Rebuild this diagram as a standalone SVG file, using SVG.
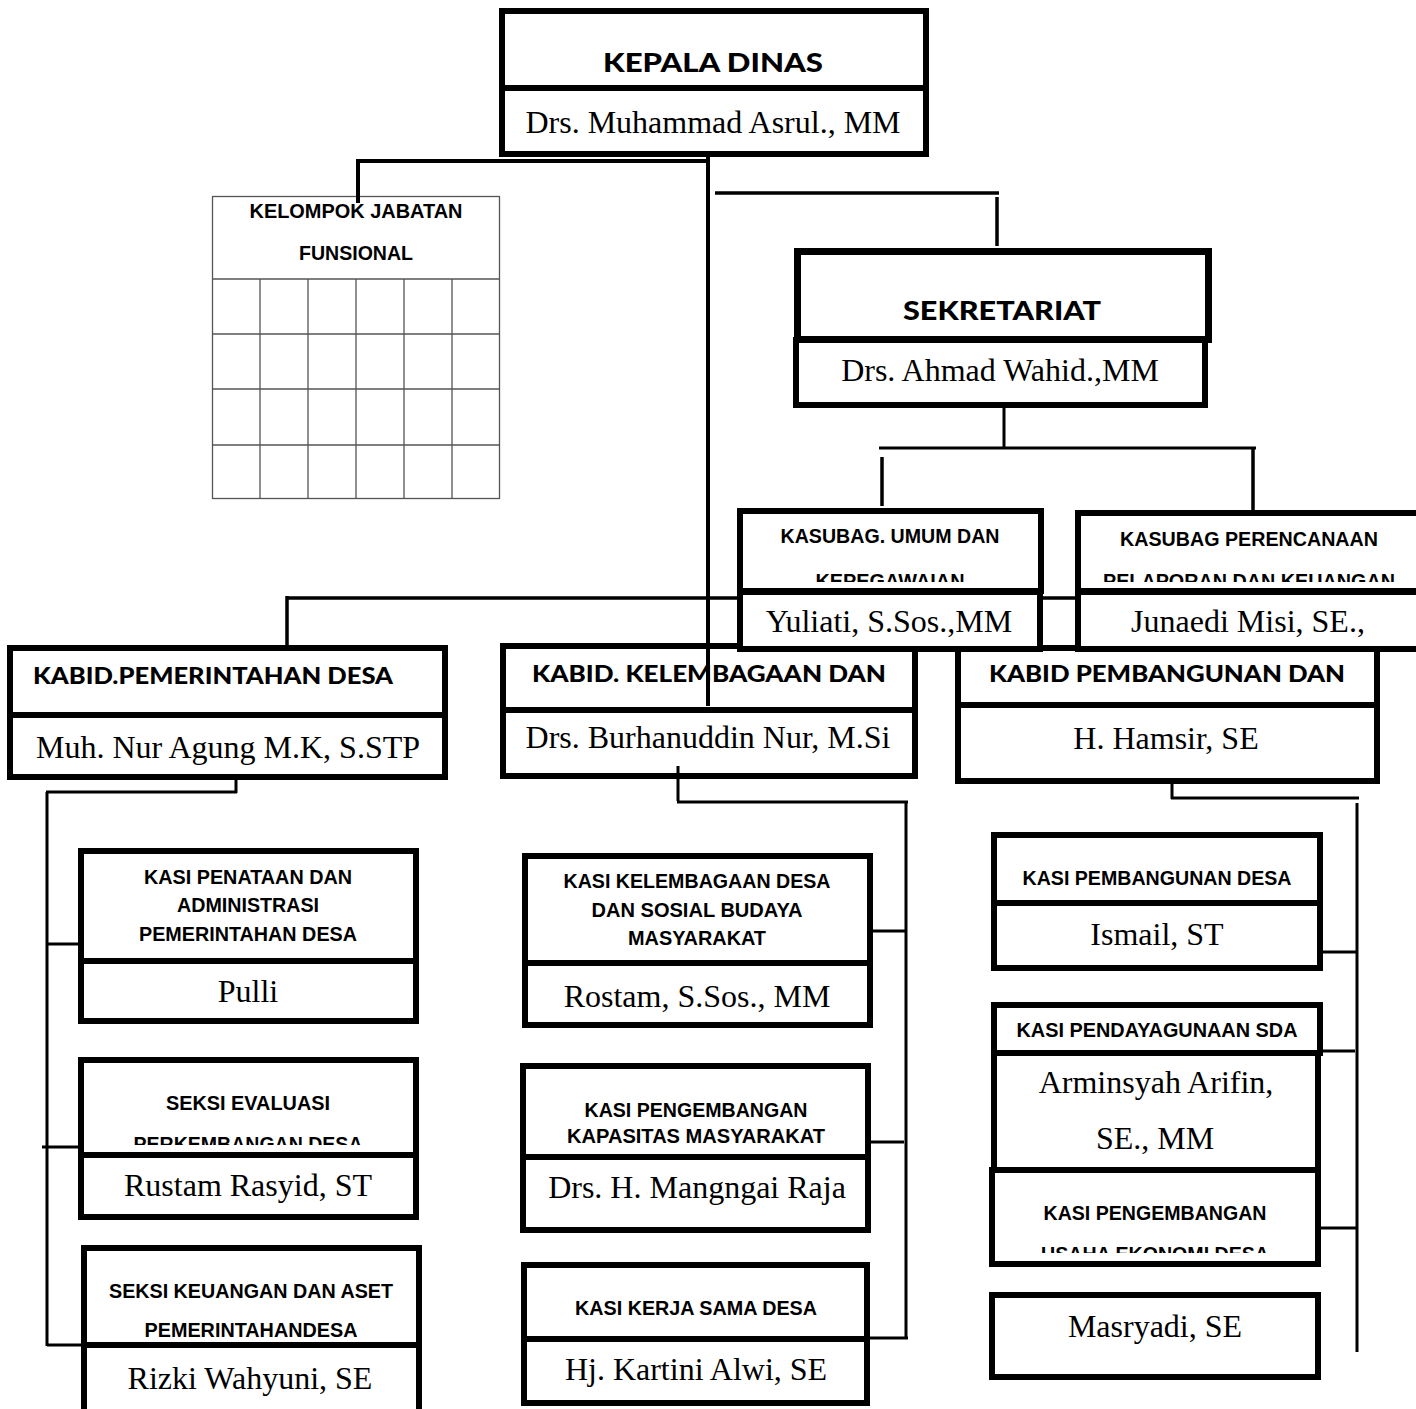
<svg xmlns="http://www.w3.org/2000/svg" width="1416" height="1409" viewBox="0 0 1416 1409">
<style>
.box{fill:#fff;stroke:#000;stroke-width:6}
.hd{font-family:Lato,"Liberation Sans",sans-serif;font-weight:900;font-size:26px;fill:#000}
.hs{font-family:Lato,"Liberation Sans",sans-serif;font-weight:900;font-size:23px;fill:#000}
.lb{font-family:"Liberation Sans",Arial,sans-serif;font-weight:bold;font-size:21px;fill:#000;text-anchor:middle}
.nm{font-family:"Liberation Serif","Times New Roman",serif;font-size:32px;fill:#000;text-anchor:middle}
.c{stroke:#000;stroke-width:3.5;fill:none}
.grid{stroke:#555;stroke-width:1.3;fill:none}
</style>
<defs>
<clipPath id="clipUmum"><rect x="740" y="511" width="301" height="71"/></clipPath>
<clipPath id="clipRenc"><rect x="1078" y="513" width="345" height="69"/></clipPath>
<clipPath id="clipEval"><rect x="81" y="1060" width="335" height="85"/></clipPath>
<clipPath id="clipUsaha"><rect x="992" y="1170" width="326" height="83"/></clipPath>
</defs>
<rect width="1416" height="1409" fill="#fff"/>

<g id="kelompok-jabatan">
<rect x="212.5" y="196.5" width="287" height="302" fill="#fff" class="grid"/>
<path class="grid" d="M212.5 279H499.5M212.5 334H499.5M212.5 389H499.5M212.5 445H499.5M260 279V498.5M308 279V498.5M356 279V498.5M404 279V498.5M452 279V498.5"/>
<text class="lb" x="356" y="218" textLength="213" lengthAdjust="spacingAndGlyphs">KELOMPOK JABATAN</text>
<text class="lb" x="356" y="260" textLength="114" lengthAdjust="spacingAndGlyphs">FUNSIONAL</text>
</g>

<g id="kepala-dinas">
<rect class="box" x="502" y="11" width="424" height="77"/>
<rect class="box" x="502" y="88" width="424" height="66"/>
<text class="hd" x="603" y="72" textLength="220" lengthAdjust="spacingAndGlyphs">KEPALA DINAS</text>
<text class="nm" x="713" y="133">Drs. Muhammad Asrul., MM</text>
</g>

<g id="sekretariat">
<rect class="box" x="797.5" y="251.5" width="411" height="88" style="stroke-width:7"/>
<rect class="box" x="796" y="340" width="409" height="65"/>
<text class="hd" x="903" y="320" textLength="198" lengthAdjust="spacingAndGlyphs">SEKRETARIAT</text>
<text class="nm" x="1000" y="381">Drs. Ahmad Wahid.,MM</text>
</g>

<g id="kabid-pemerintahan">
<rect class="box" x="10" y="648" width="435" height="67"/>
<rect class="box" x="10" y="715" width="435" height="62"/>
<text class="hs" x="33" y="684" textLength="360" lengthAdjust="spacingAndGlyphs">KABID.PEMERINTAHAN DESA</text>
<text class="nm" x="228" y="758">Muh. Nur Agung M.K, S.STP</text>
</g>

<g id="kabid-kelembagaan">
<rect class="box" x="503" y="646" width="412" height="64"/>
<rect class="box" x="503" y="710" width="412" height="66"/>
<text class="hs" x="532" y="682" textLength="354" lengthAdjust="spacingAndGlyphs">KABID. KELEMBAGAAN DAN</text>
<text class="nm" x="708" y="748">Drs. Burhanuddin Nur, M.Si</text>
</g>

<g id="kabid-pembangunan">
<rect class="box" x="958" y="648" width="419" height="57"/>
<rect class="box" x="958" y="705" width="419" height="76"/>
<text class="hs" x="989" y="682" textLength="356" lengthAdjust="spacingAndGlyphs">KABID PEMBANGUNAN DAN</text>
<text class="nm" x="1166" y="749">H. Hamsir, SE</text>
</g>

<g id="kasi-penataan">
<rect class="box" x="81" y="851" width="335" height="110"/>
<rect class="box" x="81" y="961" width="335" height="60"/>
<text class="lb" x="248" y="884" textLength="208" lengthAdjust="spacingAndGlyphs">KASI PENATAAN DAN</text>
<text class="lb" x="248" y="912" textLength="142" lengthAdjust="spacingAndGlyphs">ADMINISTRASI</text>
<text class="lb" x="248" y="941" textLength="218" lengthAdjust="spacingAndGlyphs">PEMERINTAHAN DESA</text>
<text class="nm" x="248" y="1002">Pulli</text>
</g>

<g id="seksi-evaluasi">
<rect class="box" x="81" y="1060" width="335" height="95"/>
<text class="lb" x="248" y="1110" textLength="164" lengthAdjust="spacingAndGlyphs">SEKSI EVALUASI</text>
<text class="lb" x="248" y="1151" clip-path="url(#clipEval)" textLength="229" lengthAdjust="spacingAndGlyphs">PERKEMBANGAN DESA</text>
<rect class="box" x="81" y="1155" width="335" height="62"/>
<text class="nm" x="248" y="1196">Rustam Rasyid, ST</text>
</g>

<g id="seksi-keuangan">
<rect class="box" x="84" y="1248" width="335" height="97"/>
<rect class="box" x="84" y="1345" width="335" height="72"/>
<text class="lb" x="251" y="1298" textLength="284" lengthAdjust="spacingAndGlyphs">SEKSI KEUANGAN DAN ASET</text>
<text class="lb" x="251" y="1337" textLength="213" lengthAdjust="spacingAndGlyphs">PEMERINTAHANDESA</text>
<text class="nm" x="250" y="1389">Rizki Wahyuni, SE</text>
</g>

<g id="kasi-kelembagaan">
<rect class="box" x="525" y="856" width="345" height="107"/>
<rect class="box" x="525" y="963" width="345" height="62"/>
<text class="lb" x="697" y="888" textLength="267" lengthAdjust="spacingAndGlyphs">KASI KELEMBAGAAN DESA</text>
<text class="lb" x="697" y="917" textLength="211" lengthAdjust="spacingAndGlyphs">DAN SOSIAL BUDAYA</text>
<text class="lb" x="697" y="945" textLength="138" lengthAdjust="spacingAndGlyphs">MASYARAKAT</text>
<text class="nm" x="697" y="1007">Rostam, S.Sos., MM</text>
</g>

<g id="kasi-pengembangan-kapasitas">
<rect class="box" x="523" y="1066" width="345" height="91"/>
<rect class="box" x="523" y="1157" width="345" height="73"/>
<text class="lb" x="696" y="1117" textLength="223" lengthAdjust="spacingAndGlyphs">KASI PENGEMBANGAN</text>
<text class="lb" x="696" y="1143" textLength="258" lengthAdjust="spacingAndGlyphs">KAPASITAS MASYARAKAT</text>
<text class="nm" x="697" y="1198">Drs. H. Mangngai Raja</text>
</g>

<g id="kasi-kerja-sama">
<rect class="box" x="524" y="1265" width="343" height="74"/>
<rect class="box" x="524" y="1339" width="343" height="64"/>
<text class="lb" x="696" y="1315" textLength="242" lengthAdjust="spacingAndGlyphs">KASI KERJA SAMA DESA</text>
<text class="nm" x="696" y="1380">Hj. Kartini Alwi, SE</text>
</g>

<g id="kasi-pembangunan-desa">
<rect class="box" x="994" y="835" width="326" height="68"/>
<rect class="box" x="994" y="903" width="326" height="65"/>
<text class="lb" x="1157" y="885" textLength="269" lengthAdjust="spacingAndGlyphs">KASI PEMBANGUNAN DESA</text>
<text class="nm" x="1157" y="945">Ismail, ST</text>
</g>

<g id="kasi-pendayagunaan-sda">
<rect class="box" x="994" y="1005" width="326" height="48"/>
<rect class="box" x="994" y="1053" width="324" height="117"/>
<text class="lb" x="1157" y="1037" textLength="281" lengthAdjust="spacingAndGlyphs">KASI PENDAYAGUNAAN SDA</text>
<text class="nm" x="1156" y="1093">Arminsyah Arifin,</text>
<text class="nm" x="1155" y="1149">SE., MM</text>
</g>

<g id="kasi-pengembangan-usaha">
<rect class="box" x="992" y="1170" width="326" height="94"/>
<text class="lb" x="1155" y="1220" textLength="223" lengthAdjust="spacingAndGlyphs">KASI PENGEMBANGAN</text>
<text class="lb" x="1155" y="1261" clip-path="url(#clipUsaha)" textLength="228" lengthAdjust="spacingAndGlyphs">USAHA EKONOMI DESA</text>
</g>

<g id="masryadi">
<rect class="box" x="992" y="1295" width="326" height="82"/>
<text class="nm" x="1155" y="1337">Masryadi, SE</text>
</g>

<g id="connectors">
<path class="c" style="stroke-width:4" d="M708 156V706M356 161H710M358 159V203"/>
<path class="c" d="M715 193H999M997 197V246"/>
<path class="c" style="stroke-width:3" d="M1004 408V448M879 448H1256"/>
<path class="c" d="M882 457V506M1253 448V510"/>
<path class="c" d="M287 598H1080M287 596V646"/>
<path class="c" style="stroke-width:3" d="M236 780V793M46 792H237M47 792V1346M47 944H80M42 1147H80M47 1345H83"/>
<path class="c" style="stroke-width:3" d="M678 766V801M677 802H908M906 802V1339M871 931H906M869 1142H904M868 1338H908"/>
<path class="c" style="stroke-width:3" d="M1172 782V799M1171 798H1359M1357 803V1352M1321 952H1357M1318 1051H1355M1319 1228H1358"/>
</g>

<g id="kasubag-umum">
<rect class="box" x="740" y="511" width="301" height="80"/>
<text class="lb" x="890" y="543" textLength="219" lengthAdjust="spacingAndGlyphs">KASUBAG. UMUM DAN</text>
<text class="lb" x="890" y="588" clip-path="url(#clipUmum)" textLength="149" lengthAdjust="spacingAndGlyphs">KEPEGAWAIAN</text>
<rect class="box" x="740" y="592" width="300" height="57"/>
<text class="nm" x="889" y="632">Yuliati, S.Sos.,MM</text>
</g>

<g id="kasubag-perencanaan">
<rect class="box" x="1078" y="513" width="345" height="78"/>
<text class="lb" x="1249" y="546" textLength="258" lengthAdjust="spacingAndGlyphs">KASUBAG PERENCANAAN</text>
<text class="lb" x="1249" y="588" clip-path="url(#clipRenc)" textLength="292" lengthAdjust="spacingAndGlyphs">PELAPORAN DAN KEUANGAN</text>
<rect class="box" x="1078" y="592" width="345" height="57"/>
<text class="nm" x="1248" y="632">Junaedi Misi, SE.,</text>
</g>
</svg>
